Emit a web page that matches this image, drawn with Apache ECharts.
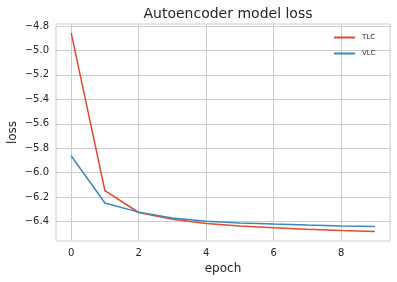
<!DOCTYPE html>
<html><head><meta charset="utf-8">
<script src="https://cdn.jsdelivr.net/npm/echarts@6/dist/echarts.min.js"></script>
<style>html,body{margin:0;padding:0;background:#fff}#c{width:397px;height:282px}</style>
</head><body><div id="c"></div>
<script>
var epochs = [0,1,2,3,4,5,6,7,8,9];
var tlc = [-4.857,-6.147,-6.325,-6.38,-6.415,-6.435,-6.45,-6.462,-6.472,-6.48];
var vlc = [-5.861,-6.247,-6.322,-6.37,-6.397,-6.41,-6.42,-6.428,-6.435,-6.44];
var xTicks = [0,2,4,6,8];
var yTicks = [-6.4,-6.2,-6.0,-5.8,-5.6,-5.4,-5.2,-5.0,-4.8];
var font = 'DejaVu Sans';
var txt = '#262626';
function pairs(ys){return epochs.map(function(e,i){return [e,ys[i]];});}
var chart = echarts.init(document.getElementById('c'));
chart.setOption({
  animation:false,
  backgroundColor:'#fff',
  title:{text:'Autoencoder model loss',left:223,textAlign:'center',top:2,
    textStyle:{fontFamily:font,fontSize:14,fontWeight:'normal',color:txt}},
  legend:{orient:'vertical',left:329,top:29,itemWidth:21,itemHeight:2,itemGap:9,icon:'rect',
    textStyle:{fontFamily:font,fontSize:7,color:txt,padding:[0,0,0,2]},data:['TLC','VLC']},
  grid:{left:56,right:7,top:24,bottom:41,show:true,borderColor:'#cccccc',borderWidth:1,
    containLabel:false,outerBoundsMode:'none'},
  xAxis:{type:'value',min:-0.45,max:9.45,
    name:'epoch',nameLocation:'middle',nameGap:22,nameMoveOverlap:false,nameTextStyle:{fontFamily:font,fontSize:12,color:txt},
    axisLine:{show:false},axisTick:{show:false,customValues:xTicks},
    axisLabel:{customValues:xTicks,fontFamily:font,fontSize:10,color:txt,margin:7},
    splitLine:{show:true,lineStyle:{color:'#cccccc',width:1}}},
  yAxis:{type:'value',min:-6.558,max:-4.784,
    name:'loss',nameLocation:'middle',nameGap:37,nameMoveOverlap:false,nameTextStyle:{fontFamily:font,fontSize:12,color:txt},
    axisLine:{show:false},axisTick:{show:false,customValues:yTicks},
    axisLabel:{customValues:yTicks,fontFamily:font,fontSize:10,color:txt,margin:7,
      formatter:function(v){return (v<0?'\u2212':'')+Math.abs(v).toFixed(1);}},
    splitLine:{show:true,lineStyle:{color:'#cccccc',width:1}}},
  series:[
    {name:'TLC',type:'line',data:pairs(tlc),showSymbol:false,symbol:'none',lineStyle:{color:'#E24A33',width:1.5},itemStyle:{color:'#E24A33'}},
    {name:'VLC',type:'line',data:pairs(vlc),showSymbol:false,symbol:'none',lineStyle:{color:'#348ABD',width:1.5},itemStyle:{color:'#348ABD'}}
  ]
});
</script></body></html>
